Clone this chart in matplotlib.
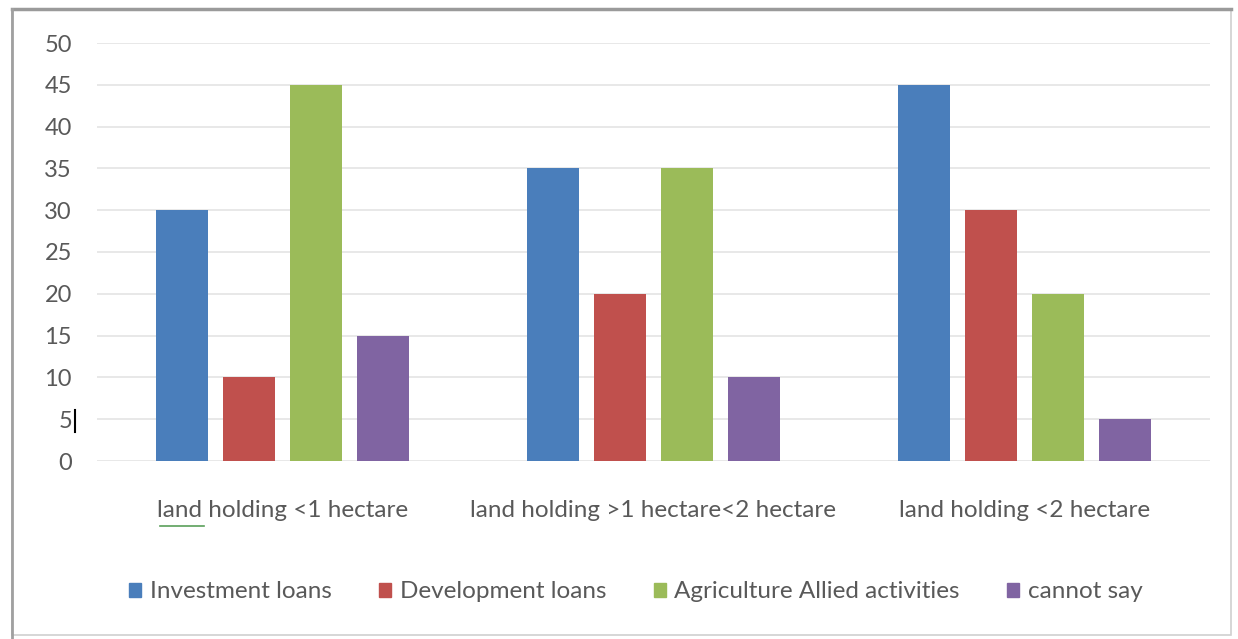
import matplotlib
matplotlib.use("Agg")
import matplotlib.pyplot as plt
import numpy as np
from matplotlib.patches import Rectangle
from matplotlib.lines import Line2D

categories = ["land holding <1 hectare",
              "land holding >1 hectare<2 hectare",
              "land holding <2 hectare"]
series_names = ["Investment loans", "Development loans",
                "Agriculture Allied activities", "cannot say"]
investment = [30, 35, 45]
development = [10, 20, 30]
agriculture = [45, 35, 20]
cannot_say = [15, 10, 5]
y_ticks = [0, 5, 10, 15, 20, 25, 30, 35, 40, 45, 50]

colors = ["#4a7ebb", "#c0504d", "#9bbb59", "#8064a2"]
text_color = "#595959"

plt.rcParams['font.family'] = ['Lato', 'DejaVu Sans']

fig = plt.figure(figsize=(12.38, 6.39), dpi=100)
fig.patch.set_facecolor("white")

# outer chart frame
fig.add_artist(Rectangle((12 / 1238, 4 / 639), 1219 / 1238, 626 / 639,
                         transform=fig.transFigure, fill=False,
                         edgecolor="#d0d0d0", linewidth=1.2))
fig.add_artist(Line2D([12 / 1238, 1231 / 1238], [630 / 639, 630 / 639],
                      transform=fig.transFigure, color="#9a9a9a", linewidth=2.5))
fig.add_artist(Line2D([12 / 1238, 12 / 1238], [0, 630 / 639],
                      transform=fig.transFigure, color="#a0a0a0", linewidth=2))

ax = fig.add_axes([97 / 1238, 1 - 461 / 639, (1210 - 97) / 1238, (461 - 43) / 639])

x = np.arange(len(categories))
width = 0.14
step = 0.181
all_series = [investment, development, agriculture, cannot_say]
for i, (vals, name, c) in enumerate(zip(all_series, series_names, colors)):
    ax.bar(x + (i - 1.5) * step, vals, width=width, color=c, label=name, zorder=3)

ax.set_xlim(-0.5, 2.5)
ax.set_ylim(0, 50)
ax.set_yticks(y_ticks)
ax.set_yticklabels([str(v) for v in y_ticks])
ax.yaxis.grid(True, color="#e4e4e4", linewidth=1.2, zorder=0)
ax.set_axisbelow(True)
for s in ax.spines.values():
    s.set_visible(False)
ax.tick_params(axis="y", length=0, pad=18, labelsize=17, labelcolor=text_color)
ax.tick_params(axis="x", length=0, pad=28, labelsize=17.5, labelcolor=text_color)
ax.set_xticks(x)
ax.set_xticklabels(categories)

# text cursor after the "5" tick label
fig.add_artist(Line2D([75 / 1238, 75 / 1238], [1 - 432 / 639, 1 - 410 / 639],
                      transform=fig.transFigure, color="black", linewidth=1.5))
# spelling underline under "land"
fig.add_artist(Line2D([160 / 1238, 204 / 1238], [1 - 526 / 639, 1 - 526 / 639],
                      transform=fig.transFigure, color="#5aa05a", linewidth=1.2))

handles = [Rectangle((0, 0), 1, 1, color=c) for c in colors]
fig.legend(handles, series_names, loc="center", bbox_to_anchor=(636 / 1238, 1 - 592 / 639),
           ncol=4, frameon=False, fontsize=17.5, labelcolor=text_color,
           handlelength=0.5, handleheight=0.5, handletextpad=0.35, columnspacing=1.95)

fig.savefig("out.png", dpi=100, facecolor="white")
